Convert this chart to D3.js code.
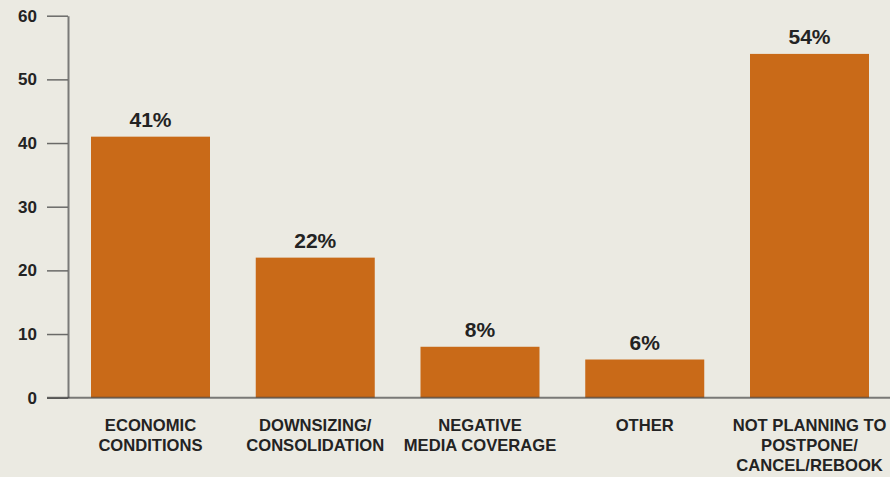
<!DOCTYPE html>
<html>
<head>
<meta charset="utf-8">
<script src="https://cdn.jsdelivr.net/npm/d3@7"></script>
<style>
  html, body { margin: 0; padding: 0; background: #EBEAE2; }
  svg { display: block; }
  text { font-family: "Liberation Sans", Arial, sans-serif; font-weight: bold; fill: #232323; }
</style>
</head>
<body>
<svg id="chart" width="890" height="477"></svg>
<script>
// Reasons for postponing / cancelling / rebooking
const categories = [
  ["ECONOMIC", "CONDITIONS"],
  ["DOWNSIZING/", "CONSOLIDATION"],
  ["NEGATIVE", "MEDIA COVERAGE"],
  ["OTHER"],
  ["NOT PLANNING TO", "POSTPONE/", "CANCEL/REBOOK"]
];
const values = [41, 22, 8, 6, 54];
const yTicks = [0, 10, 20, 30, 40, 50, 60];

const svg = d3.select("#chart");
const W = 890;

const y = d3.scaleLinear().domain([0, 60]).range([397.7, 15.7]);
const x = d3.scaleBand()
  .domain(d3.range(values.length))
  .range([68, 892])
  .paddingInner(0.2777)
  .paddingOuter(0.1396);

// Bars
svg.append("g").selectAll("rect")
  .data(values)
  .join("rect")
  .attr("x", (d, i) => x(i))
  .attr("width", x.bandwidth())
  .attr("y", d => y(d))
  .attr("height", d => y(0) - y(d))
  .attr("fill", "#C96A18");

// Value labels
svg.append("g").selectAll("text")
  .data(values)
  .join("text")
  .attr("x", (d, i) => x(i) + x.bandwidth() / 2)
  .attr("y", d => y(d) - 10)
  .attr("text-anchor", "middle")
  .style("font-size", "21px")
  .text(d => d + "%");

// Y axis
const yAxis = d3.axisLeft(y)
  .tickValues(yTicks)
  .tickSizeInner(21)
  .tickSizeOuter(0)
  .tickPadding(10);
const gy = svg.append("g").attr("transform", "translate(68,0)").call(yAxis);
gy.select(".domain").attr("stroke", "#7a7a78").attr("stroke-width", 2);
gy.selectAll(".tick line").attr("stroke", "#6a6a68").attr("stroke-width", 1.5);
gy.selectAll(".tick text")
  .style("font-size", "17px")
  .style("font-family", "'Liberation Sans', Arial, sans-serif")
  .style("font-weight", "bold")
  .attr("fill", "#232323");

// Baseline
svg.append("line")
  .attr("x1", 47).attr("x2", W)
  .attr("y1", y(0)).attr("y2", y(0))
  .attr("stroke", "rgba(60,60,60,0.65)")
  .attr("stroke-width", 2);

// Category labels
const cat = svg.append("g").selectAll("text")
  .data(categories)
  .join("text")
  .attr("x", (d, i) => x(i) + x.bandwidth() / 2)
  .attr("y", 431)
  .attr("text-anchor", "middle")
  .style("font-size", "16.6px");
cat.selectAll("tspan")
  .data(d => d)
  .join("tspan")
  .attr("x", function () { return d3.select(this.parentNode).attr("x"); })
  .attr("dy", (d, j) => j === 0 ? 0 : 19.8)
  .text(d => d);
</script>
</body>
</html>
